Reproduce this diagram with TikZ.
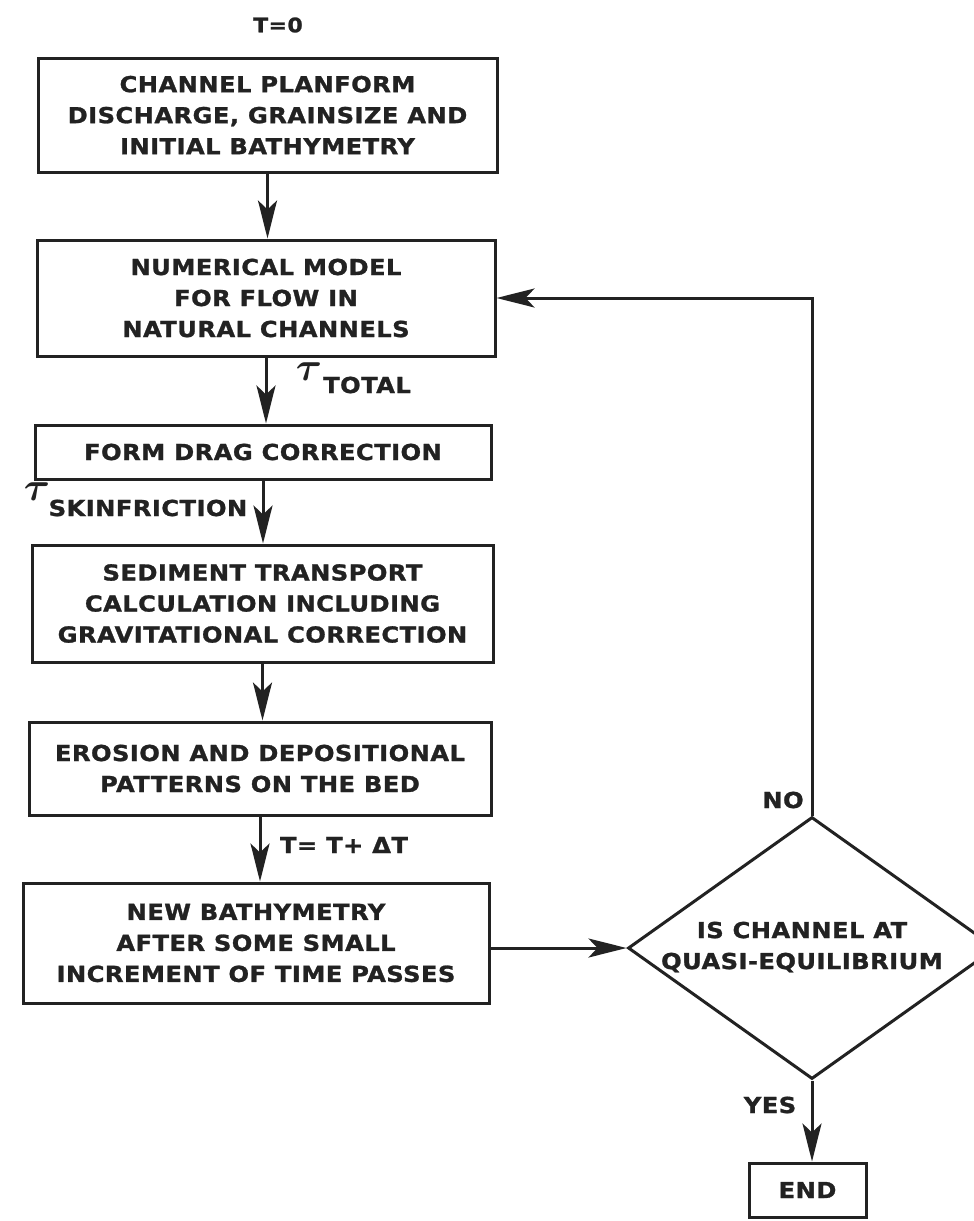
\documentclass[tikz,border=0pt]{standalone}
\usepackage{fontspec}
\usepackage{bm}
\newfontfamily\lettering{DejaVu Sans}[LetterSpace=2,FakeBold=1.2,FakeStretch=1.1]
\usetikzlibrary{arrows.meta,shapes.geometric}
\definecolor{ink}{HTML}{222222}
\begin{document}
\begin{tikzpicture}[x=1pt,y=-1pt,
  box/.style={draw=ink, line width=3pt, inner sep=0pt, align=center, text=ink,
    font=\lettering\bfseries\fontsize{22}{31}\selectfont},
  lbl/.style={text=ink, inner sep=0pt, align=center,
    font=\lettering\bfseries\fontsize{22}{31}\selectfont},
  arr/.style={draw=ink, line width=3pt, -{Stealth[length=38pt,width=19pt,inset=9pt]}},
  taus/.style={text=ink, inner sep=0pt}]
\useasboundingbox[fill=white] (0,0) rectangle (974,1221);

\node[box, minimum width=459pt, minimum height=114pt] (b1) at (267.5,115)
  {CHANNEL PLANFORM\\DISCHARGE, GRAINSIZE AND\\INITIAL BATHYMETRY};
\node[box, minimum width=458pt, minimum height=116pt] (b2) at (266,298)
  {NUMERICAL MODEL\\FOR FLOW IN\\NATURAL CHANNELS};
\node[box, minimum width=456pt, minimum height=54pt] (b3) at (263,452)
  {FORM DRAG CORRECTION};
\node[box, minimum width=461pt, minimum height=117pt] (b4) at (262.5,603.5)
  {SEDIMENT TRANSPORT\\CALCULATION INCLUDING\\GRAVITATIONAL CORRECTION};
\node[box, minimum width=462pt, minimum height=93pt] (b5) at (260,768.5)
  {EROSION AND DEPOSITIONAL\\PATTERNS ON THE BED};
\node[box, minimum width=466pt, minimum height=120pt] (b6) at (256,943)
  {NEW BATHYMETRY\\AFTER SOME SMALL\\INCREMENT OF TIME PASSES};

\node[draw=ink, line width=3pt, diamond, minimum width=368pt, minimum height=262pt,
  inner sep=0pt] (d) at (812,948) {};
\node[lbl] (dt) at (802,947) {IS CHANNEL AT\\QUASI-EQUILIBRIUM};

\node[box, minimum width=117pt, minimum height=54pt] (e) at (807.5,1190) {END};

\node[lbl, font=\lettering\bfseries\fontsize{20}{24}\selectfont] (t0) at (278,25) {T=0};
\node[taus] (tau1) at (309,372) {\scalebox{4}{$\bm{\tau}$}};
\node[lbl] (tot) at (367,385) {TOTAL};
\node[taus] (tau2) at (37,492) {\scalebox{4}{$\bm{\tau}$}};
\node[lbl] (skin) at (148,508) {SKINFRICTION};
\node[lbl] (tdt) at (344,845) {T= T+ ΔT};
\node[lbl] (no) at (783,800) {NO};
\node[lbl] (yes) at (770,1105) {YES};

\draw[arr] (b1.south) -- (b1.south |- b2.north);
\draw[arr] (b2.south) -- (b2.south |- b3.north);
\draw[arr] (b3.south) -- (b3.south |- b4.north);
\draw[arr] (b4.south) -- (b4.south |- b5.north);
\draw[arr] (b5.south) -- (b5.south |- b6.north);
\draw[arr] (b6.east |- d.west) -- (d.west);
\draw[arr] (d.north) |- (b2.east);
\draw[arr] (d.south) -- (d.south |- e.north);
\end{tikzpicture}
\end{document}
